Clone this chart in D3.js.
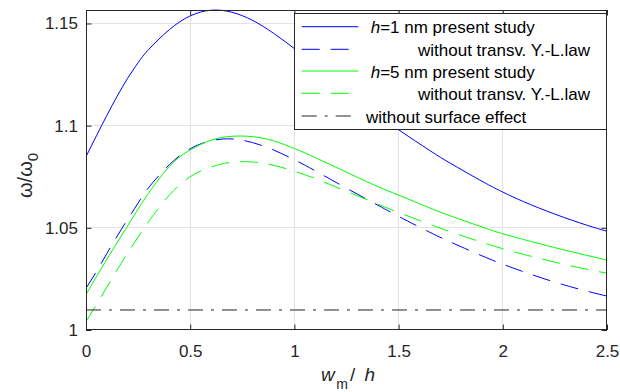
<!DOCTYPE html>
<html><head><meta charset="utf-8">
<script src="https://cdn.jsdelivr.net/npm/d3@7"></script>
<style>
body{margin:0;background:#fff;}
svg{display:block;font-family:"Liberation Sans",Arial,Helvetica,sans-serif;}
</style>
</head><body>
<svg id="chart" width="620" height="392"></svg>
<script>
// ---------------- data ----------------
const xValues = [0, 0.05, 0.1, 0.15, 0.2, 0.25, 0.3, 0.4, 0.5, 0.6, 0.7, 0.8, 0.9, 1.0, 1.1, 1.25, 1.4, 1.5, 1.65, 1.75, 1.9, 2.0, 2.1, 2.25, 2.4, 2.5];
const h1Present   = [1.0848, 1.0950, 1.1050, 1.1145, 1.1232, 1.1308, 1.1372, 1.1470, 1.1537, 1.1565, 1.1555, 1.1515, 1.1452, 1.1377, 1.1297, 1.1174, 1.1054, 1.0980, 1.0878, 1.0815, 1.0728, 1.0675, 1.0628, 1.0567, 1.0514, 1.0483];
const h1WithoutYL = [1.0204, 1.0286, 1.0374, 1.0460, 1.0542, 1.0621, 1.0696, 1.0809, 1.0887, 1.0926, 1.0935, 1.0917, 1.0881, 1.0833, 1.0779, 1.0694, 1.0611, 1.0556, 1.0478, 1.0430, 1.0363, 1.0322, 1.0285, 1.0234, 1.0191, 1.0166];
const h5Present   = [1.0174, 1.0261, 1.0346, 1.0429, 1.0510, 1.0592, 1.0669, 1.0801, 1.0881, 1.0929, 1.0948, 1.0946, 1.0926, 1.0888, 1.0844, 1.0772, 1.0702, 1.0660, 1.0597, 1.0558, 1.0504, 1.0471, 1.0443, 1.0403, 1.0366, 1.0342];
const h5WithoutYL = [1.0041, 1.0124, 1.0210, 1.0295, 1.0377, 1.0455, 1.0530, 1.0660, 1.0750, 1.0798, 1.0821, 1.0822, 1.0806, 1.0777, 1.0741, 1.0679, 1.0616, 1.0575, 1.0517, 1.0480, 1.0429, 1.0398, 1.0370, 1.0332, 1.0298, 1.0278];
const noSurfaceX = [0, 2.5];
const noSurfaceY = [1.0098, 1.0098];

const xTicks = [0, 0.5, 1, 1.5, 2, 2.5];
const xTickLabels = ["0", "0.5", "1", "1.5", "2", "2.5"];
const yTicks = [1, 1.05, 1.1, 1.15];
const yTickLabels = ["1", "1.05", "1.1", "1.15"];
const xDomain = [0, 2.5];
const yDomain = [1, 1.1566];

const seriesList = [
  {name: "h1p", xs: xValues, ys: h1Present,   color: "#0000ff", dash: null},
  {name: "h1w", xs: xValues, ys: h1WithoutYL, color: "#0000ff", dash: "18,11"},
  {name: "h5p", xs: xValues, ys: h5Present,   color: "#00ff00", dash: null},
  {name: "h5w", xs: xValues, ys: h5WithoutYL, color: "#00ff00", dash: "18,11"},
  {name: "nos", xs: noSurfaceX, ys: noSurfaceY, color: "#262626", dash: "15,8,3,8"}
];
const legendRows = [
  {series: 0, italic: "h", rest: "=1 nm present study", dx: 4.7},
  {series: 1, italic: "",  rest: "without transv. Y.-L.law", dx: 52},
  {series: 2, italic: "h", rest: "=5 nm present study", dx: 4.7},
  {series: 3, italic: "",  rest: "without transv. Y.-L.law", dx: 52},
  {series: 4, italic: "",  rest: "without surface effect", dx: 0}
];

// ---------------- layout ----------------
const L = 86, R = 607, T = 10, B = 330;
const axisColor = "#262626";
const gridColor = "#e3e3e3";
const svg = d3.select("#chart");
const x = d3.scaleLinear().domain(xDomain).range([L, R]);
const y = d3.scaleLinear().domain(yDomain).range([B, T]);

// grid
const grid = svg.append("g");
grid.selectAll("line.gx").data(xTicks.filter(d => d > xDomain[0] && d < xDomain[1])).join("line")
  .attr("x1", d => x(d)).attr("x2", d => x(d)).attr("y1", T).attr("y2", B)
  .attr("stroke", gridColor).attr("stroke-width", 1).attr("shape-rendering", "crispEdges");
grid.selectAll("line.gy").data(yTicks.filter(d => d > yDomain[0] && d < yDomain[1])).join("line")
  .attr("y1", d => y(d)).attr("y2", d => y(d)).attr("x1", L).attr("x2", R)
  .attr("stroke", gridColor).attr("stroke-width", 1).attr("shape-rendering", "crispEdges");

// lines
svg.append("clipPath").attr("id", "clip").append("rect")
  .attr("x", L).attr("y", T - 1).attr("width", R - L).attr("height", B - T + 1);
const plot = svg.append("g").attr("clip-path", "url(#clip)");
seriesList.forEach(s => {
  const pts = s.xs.map((v, i) => [v, s.ys[i]]);
  const line = d3.line().x(d => x(d[0])).y(d => y(d[1])).curve(d3.curveNatural);
  plot.append("path").datum(pts).attr("d", line)
    .attr("fill", "none").attr("stroke", s.color).attr("stroke-width", 1)
    .attr("stroke-dasharray", s.dash);
});

// axes
const tickLen = 5.5;
const fs = 17;
const gx = svg.append("g").attr("transform", `translate(0,${B})`)
  .call(d3.axisBottom(x).tickValues(xTicks).tickFormat((d, i) => xTickLabels[i])
    .tickSizeInner(-tickLen).tickSizeOuter(0).tickPadding(15));
const gy = svg.append("g").attr("transform", `translate(${L},0)`)
  .call(d3.axisLeft(y).tickValues(yTicks).tickFormat((d, i) => yTickLabels[i])
    .tickSizeInner(-tickLen).tickSizeOuter(0).tickPadding(8));
const gt = svg.append("g").attr("transform", `translate(0,${T})`)
  .call(d3.axisTop(x).tickValues(xTicks).tickFormat("").tickSizeInner(-tickLen).tickSizeOuter(0));
const gr = svg.append("g").attr("transform", `translate(${R},0)`)
  .call(d3.axisRight(y).tickValues(yTicks).tickFormat("").tickSizeInner(-tickLen).tickSizeOuter(0));
[gx, gy, gt, gr].forEach(g => {
  g.select(".domain").remove();
  g.selectAll(".tick line").attr("stroke", axisColor);
  g.selectAll("text").attr("fill", axisColor).attr("font-size", fs)
    .attr("font-family", '"Liberation Sans",Arial,sans-serif');
});
svg.append("rect").attr("x", L + 0.5).attr("y", T + 0.5).attr("width", R - L - 1).attr("height", B - T - 1)
  .attr("fill", "none").attr("stroke", axisColor).attr("stroke-width", 1);

// axis labels
const xl = svg.append("text").attr("x", 321).attr("y", 381).attr("font-size", 19).attr("fill", axisColor);
xl.append("tspan").attr("font-style", "italic").text("w");
xl.append("tspan").attr("font-size", 14).attr("dy", 8).attr("dx", 1.5).text("m");
xl.append("tspan").attr("dy", -8).attr("dx", 2).text("/ ");
xl.append("tspan").attr("font-style", "italic").attr("dx", 4).text("h");

const yl = svg.append("text").attr("transform", "translate(32,198) rotate(-90)")
  .attr("font-size", 20).attr("fill", axisColor);
yl.append("tspan").text("ω/ω");
yl.append("tspan").attr("font-size", 15).attr("dy", 6).text("0");

// legend
const lg = svg.append("g");
lg.append("rect").attr("x", 294.5).attr("y", 13.5).attr("width", 312).attr("height", 116)
  .attr("fill", "#fff").attr("stroke", axisColor).attr("stroke-width", 1);
const rowY = [26.7, 49.3, 71, 93.3, 116];
legendRows.forEach((r, i) => {
  const s = seriesList[r.series];
  lg.append("line").attr("x1", 301.7).attr("x2", 358.3).attr("y1", rowY[i]).attr("y2", rowY[i])
    .attr("stroke", s.color).attr("stroke-width", 1).attr("stroke-dasharray", s.dash);
  const t = lg.append("text").attr("x", 366 + r.dx).attr("y", rowY[i] + 6.5)
    .attr("font-size", fs).attr("fill", "#000");
  if (r.italic) t.append("tspan").attr("font-style", "italic").text(r.italic);
  t.append("tspan").text(r.rest);
});
</script>
</body></html>
